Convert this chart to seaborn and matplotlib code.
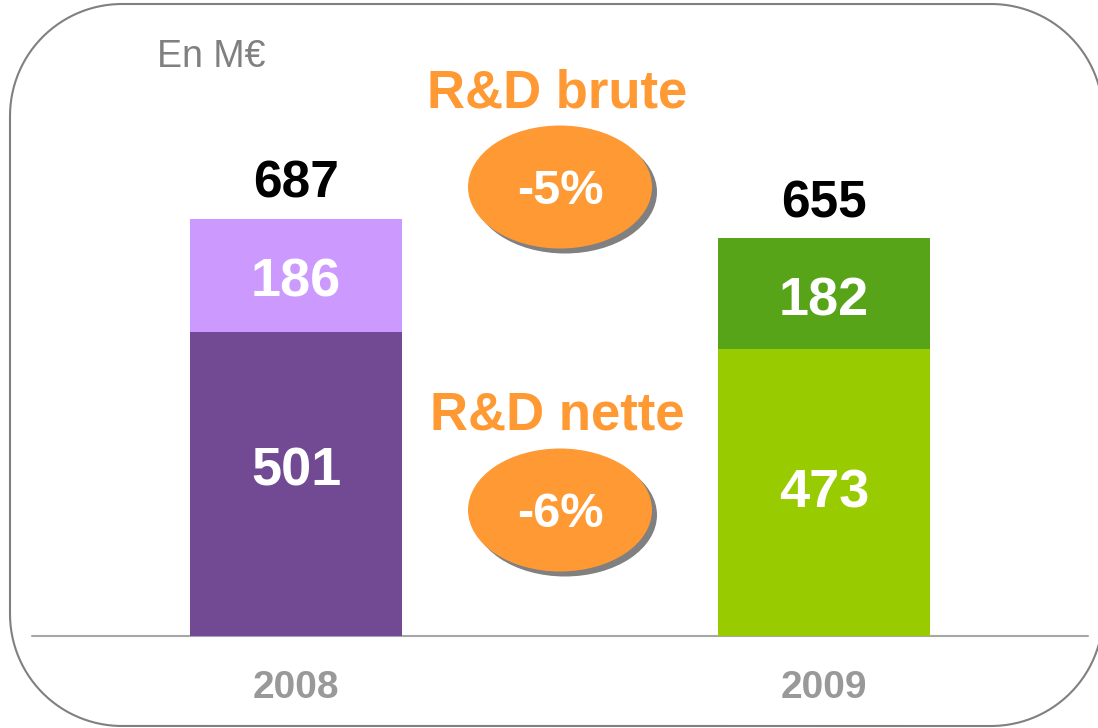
import matplotlib
matplotlib.use("Agg")
import matplotlib.pyplot as plt
import numpy as np
import seaborn as sns
from matplotlib.patches import Ellipse

# ---- data ----
years = ["2008", "2009"]
net_values = [501, 473]          # R&D nette
extra_values = [186, 182]        # part brute - nette
total_values = [687, 655]        # R&D brute
unit_label = "En M€"
brute_label = "R&D brute"
nette_label = "R&D nette"
brute_change = "-5%"
nette_change = "-6%"

# ---- styles ----
net_colors = ["#714A93", "#99CC00"]
top_colors = ["#CC99FF", "#58A418"]
orange = "#FF9933"

sns.set_theme(style="white")
plt.rcParams["font.family"] = ["Liberation Sans", "DejaVu Sans"]

W, H = 1098, 728
fig = plt.figure(figsize=(W / 100, H / 100), dpi=100)

# overlay axes in pixel coordinates (y downwards) for the decorations
deco = fig.add_axes([0, 0, 1, 1], zorder=0)
deco.set_xlim(0, W)
deco.set_ylim(H, 0)
deco.axis("off")

ax = fig.add_axes([0, 0, 1, 1], zorder=1)
ax.patch.set_alpha(0)

bar_w = 212 / 528
sns.barplot(x=years, y=total_values, hue=years, palette=top_colors,
            width=bar_w, saturation=1, legend=False, ax=ax, zorder=2,
            linewidth=0)
sns.barplot(x=years, y=net_values, hue=years, palette=net_colors,
            width=bar_w, saturation=1, legend=False, ax=ax, zorder=3,
            linewidth=0)

px_per_unit = 0.607
base_px = 92
ax.set_xlim(-296 / 528, (W - 296) / 528)
ax.set_ylim(-base_px / px_per_unit, (H - base_px) / px_per_unit)
ax.axis("off")

ax.axhline(0, xmin=32 / W, xmax=1088 / W, color="#A6A6A6", lw=1.5, zorder=1)

net_label_offsets = [18, 4]  # pixels upward, as placed in the reference
for i, yr in enumerate(years):
    ax.annotate(str(total_values[i]), (i, total_values[i]), xytext=(0, 21),
                textcoords="offset pixels", ha="center", va="baseline",
                fontsize=37, fontweight="bold", color="black", zorder=5)
    ax.annotate(str(extra_values[i]), (i, net_values[i] + extra_values[i] / 2),
                xytext=(0, -2), textcoords="offset pixels",
                ha="center", va="center_baseline",
                fontsize=39, fontweight="bold", color="white", zorder=5)
    ax.annotate(str(net_values[i]), (i, net_values[i] / 2),
                xytext=(0, net_label_offsets[i]), textcoords="offset pixels",
                ha="center", va="center_baseline",
                fontsize=39, fontweight="bold", color="white", zorder=5)
    ax.annotate(yr, (i, 0), xytext=(0, -62), textcoords="offset pixels",
                ha="center", va="baseline", fontsize=28, fontweight="bold",
                color="#999999")

# rounded frame drawn as a polyline (extends past the right edge)
x0, y0, x1, y1, r = 10, 4, 1103, 726, 112
def arc(cx, cy, a0, a1):
    t = np.radians(np.linspace(a0, a1, 60))
    return cx + r * np.cos(t), cy + r * np.sin(t)
segs = [arc(x0 + r, y0 + r, 180, 270), arc(x1 - r, y0 + r, 270, 360),
        arc(x1 - r, y1 - r, 0, 90), arc(x0 + r, y1 - r, 90, 180)]
fx_ = np.concatenate([s[0] for s in segs] + [segs[0][0][:1]])
fy_ = np.concatenate([s[1] for s in segs] + [segs[0][1][:1]])
deco.plot(fx_, fy_, color="#808080", lw=1.5, clip_on=False)

deco.text(157, 67, unit_label, fontsize=27, color="#808080",
          ha="left", va="baseline")
deco.text(557, 107, brute_label, fontsize=38, fontweight="bold",
          color=orange, ha="center", va="baseline", zorder=5)
deco.text(557, 430, nette_label, fontsize=38, fontweight="bold",
          color=orange, ha="center", va="baseline", zorder=5)

for (cx, cy), txt in [((560, 187), brute_change), ((560, 510), nette_change)]:
    deco.add_patch(Ellipse((cx + 5, cy + 5), 184, 123,
                           facecolor="#808080", edgecolor="none", zorder=3))
    deco.add_patch(Ellipse((cx, cy), 184, 123,
                           facecolor=orange, edgecolor="none", zorder=4))
    deco.text(cx, cy + 17, txt, fontsize=35, fontweight="bold",
              color="white", ha="center", va="baseline", zorder=6)

fig.savefig("out.png", dpi=100)
